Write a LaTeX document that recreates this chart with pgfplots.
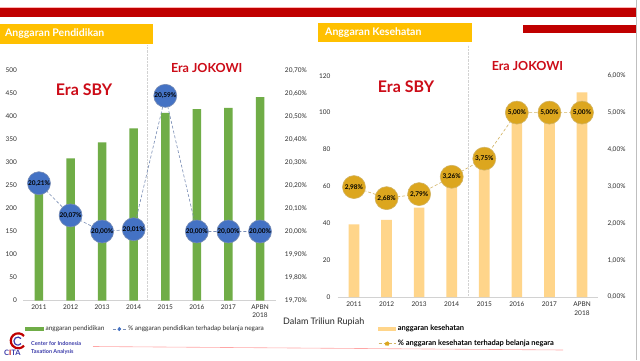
\documentclass[border=0pt]{standalone}
\usepackage{fontspec}
\setmainfont{Lato}
\usepackage{pgfplots}
\pgfplotsset{compat=1.18}
\definecolor{cred}{RGB}{192,0,0}
\definecolor{cyel}{RGB}{255,192,0}
\definecolor{cgreen}{RGB}{112,173,71}
\definecolor{cblue}{RGB}{68,114,196}
\definecolor{cdashb}{RGB}{120,140,180}
\definecolor{corange}{RGB}{255,213,138}
\definecolor{cgold}{RGB}{220,166,30}
\definecolor{cdashg}{RGB}{210,180,100}
\definecolor{erared}{RGB}{204,12,24}
\definecolor{ctick}{RGB}{45,45,45}
\definecolor{clogo}{RGB}{60,60,170}
\begin{document}
\begin{tikzpicture}[x=1pt,y=1pt]
\fill[white] (0,0) rectangle (640,360);
% header
\draw[red!30, line width=0.8pt] (0,352.4) -- (636,352.4);
\fill[cred] (0,343.3) rectangle (636,351.7);
\fill[cred] (523,327) rectangle (637,335);
\draw[gray!50, line width=0.8pt] (636.8,0) -- (636.8,360);
\fill[cyel] (0,316.5) rectangle (153,336);
\node[anchor=west, text=white, font=\bfseries\fontsize{10.5}{12}\selectfont, inner sep=0pt] at (5,326.2) {Anggaran Pendidikan};
\fill[cyel] (318,318) rectangle (472,337);
\node[anchor=west, text=white, font=\bfseries\fontsize{10.5}{12}\selectfont, inner sep=0pt] at (325,327.7) {Anggaran Kesehatan};
% dividers
\draw[gray!35, densely dotted] (147,59.5) -- (147,315);
\draw[gray!35, densely dotted] (468,63) -- (468,315);
% ---------- left chart ----------
\begin{axis}[at={(23.2pt,59.5pt)}, anchor=south west, scale only axis,
  width=252.6pt, height=230pt, xmin=-0.5, xmax=7.5, ymin=0, ymax=500,
  ytick={0,50,...,500}, xtick={0,...,7},
  xticklabels={2011,2012,2013,2014,2015,2016,2017,{APBN\\2018}},
  axis x line*=bottom, axis y line*=left,
  y axis line style={draw=none}, x axis line style={draw=gray!35},
  major tick length=0pt,
  ticklabel style={font=\fontsize{6.5}{8.5}\selectfont, text=ctick},
  yticklabel style={inner sep=0pt, xshift=-6pt},
  xticklabel style={inner sep=0pt, yshift=-4pt, align=center},
  /pgf/number format/assume math mode=true, clip=false]
\addplot[ybar, bar width=8.5pt, fill=cgreen, draw=none] coordinates {(0,267)(1,309)(2,344)(3,374)(4,408)(5,416)(6,419)(7,442)};
\end{axis}
\begin{axis}[at={(23.2pt,59.5pt)}, anchor=south west, scale only axis,
  width=252.6pt, height=230pt, xmin=-0.5, xmax=7.5, ymin=19.7, ymax=20.7,
  hide x axis, axis y line*=right, y axis line style={draw=none},
  major tick length=0pt,
  ytick={19.7,19.8,19.9,20,20.1,20.2,20.3,20.4,20.5,20.6,20.7},
  yticklabels={{19,70\%},{19,80\%},{19,90\%},{20,00\%},{20,10\%},{20,20\%},{20,30\%},{20,40\%},{20,50\%},{20,60\%},{20,70\%}},
  ticklabel style={font=\fontsize{6.5}{8}\selectfont, text=ctick},
  yticklabel style={inner sep=0pt, xshift=9pt},
  clip=false,
  legend style={at={(0.007,-0.124)}, anchor=west, draw=none, fill=none, inner sep=0pt,
    font=\fontsize{6.5}{8}\selectfont, text=ctick, legend columns=2,
    /tikz/every even column/.append style={column sep=6pt}},
  legend cell align=left]
\addlegendimage{legend image code/.code={\fill[cgreen] (-4pt,-1.6pt) rectangle (14pt,1.6pt);}}
\addlegendentry{anggaran pendidikan}
\addplot[densely dashed, color=cdashb, line width=0.6pt, mark=*, mark size=11.5pt,
  mark options={solid, fill=cblue, draw=none},
  nodes near coords, point meta=explicit symbolic,
  every node near coord/.append style={anchor=center, font=\bfseries\fontsize{6.5}{7}\selectfont, text=black, inner sep=0pt},
  legend image code/.code={\draw[densely dashed, cdashb, line width=0.6pt] (0pt,0) -- (13pt,0); \fill[cblue] (6.5pt,0) circle (1.7pt);}]
coordinates {(0,20.21)[20,21\%] (1,20.07)[20,07\%] (2,20.00)[20,00\%] (3,20.01)[20,01\%] (4,20.59)[20,59\%] (5,20.00)[20,00\%] (6,20.00)[20,00\%] (7,20.00)[20,00\%]};
\addlegendentry{\% anggaran pendidikan terhadap belanja negara}
\end{axis}
\node[text=erared, font=\bfseries\fontsize{16}{18}\selectfont] at (84,270) {Era SBY};
\node[text=erared, font=\bfseries\fontsize{12.5}{14}\selectfont] at (206.7,292) {Era JOKOWI};
% ---------- right chart ----------
\begin{axis}[at={(337.7pt,63pt)}, anchor=south west, scale only axis,
  width=260.6pt, height=221.3pt, xmin=-0.5, xmax=7.5, ymin=0, ymax=120,
  ytick={0,20,...,120}, xtick={0,...,7},
  xticklabels={2011,2012,2013,2014,2015,2016,2017,{APBN\\2018}},
  axis x line*=bottom, axis y line*=left,
  y axis line style={draw=none}, x axis line style={draw=gray!35},
  major tick length=0pt,
  ticklabel style={font=\fontsize{6.5}{8.5}\selectfont, text=ctick},
  yticklabel style={inner sep=0pt, xshift=-7pt},
  xticklabel style={inner sep=0pt, yshift=-5pt, align=center},
  /pgf/number format/assume math mode=true, clip=false]
\addplot[ybar, bar width=10.7pt, fill=corange, draw=none] coordinates {(0,39.4)(1,41.8)(2,48.4)(3,59.7)(4,69.3)(5,104.1)(6,104.9)(7,111)};
\end{axis}
\begin{axis}[at={(337.7pt,63pt)}, anchor=south west, scale only axis,
  width=260.6pt, height=221.3pt, xmin=-0.5, xmax=7.5, ymin=0, ymax=6,
  hide x axis, axis y line*=right, y axis line style={draw=none},
  major tick length=0pt,
  ytick={0,1,2,3,4,5,6},
  yticklabels={{0,00\%},{1,00\%},{2,00\%},{3,00\%},{4,00\%},{5,00\%},{6,00\%}},
  ticklabel style={font=\fontsize{6.5}{8}\selectfont, text=ctick},
  yticklabel style={inner sep=0pt, xshift=9pt},
  clip=false,
  legend style={at={(0.155,-0.117)}, anchor=north west, draw=none, fill=none, inner sep=0pt,
    font=\bfseries\fontsize{7.5}{9}\selectfont, row sep=4pt},
  legend cell align=left]
\addlegendimage{legend image code/.code={\fill[corange] (0pt,-1.6pt) rectangle (17pt,1.6pt);}}
\addlegendentry{anggaran kesehatan}
\addplot[densely dashed, color=cdashg, line width=0.6pt, mark=*, mark size=11.5pt,
  mark options={solid, fill=cgold, draw=none},
  nodes near coords, point meta=explicit symbolic,
  every node near coord/.append style={anchor=center, font=\bfseries\fontsize{6.5}{7}\selectfont, text=black, inner sep=0pt},
  legend image code/.code={\draw[densely dashed, cdashg, line width=0.6pt] (0pt,0) -- (17pt,0); \fill[cgold] (8.5pt,0) circle (2pt);}]
coordinates {(0,2.98)[2,98\%] (1,2.68)[2,68\%] (2,2.79)[2,79\%] (3,3.26)[3,26\%] (4,3.75)[3,75\%] (5,5.00)[5,00\%] (6,5.00)[5,00\%] (7,5.00)[5,00\%]};
\addlegendentry{\% anggaran kesehatan terhadap belanja negara}
\end{axis}
\node[text=erared, font=\bfseries\fontsize{16}{18}\selectfont] at (406,273.3) {Era SBY};
\node[text=erared, font=\bfseries\fontsize{12.5}{14}\selectfont] at (527.5,294) {Era JOKOWI};
\node[anchor=west, inner sep=0pt, font=\fontsize{9}{10}\selectfont, text=black!85] at (283,38) {Dalam Triliun Rupiah};
% footer / logo
\draw[red!35, line width=0.6pt] (93,13.5) -- (563,10);
\draw[cred, line width=2.2pt] (24,24) arc (40:320:7.5pt);
\draw[clogo, line width=1.2pt] (21,21.5) arc (40:320:4pt);
\node[anchor=west, inner sep=0pt, text=clogo, font=\bfseries\fontsize{7.5}{8}\selectfont] at (4,7) {C\textcolor{cred}{I}TA};
\node[anchor=west, inner sep=0pt, text=clogo, font=\bfseries\fontsize{5.5}{6}\selectfont] at (31,16.5) {Center for Indonesia};
\node[anchor=west, inner sep=0pt, text=clogo, font=\bfseries\fontsize{5.5}{6}\selectfont] at (31,8) {Taxation Analysis};
\pgfresetboundingbox
\path[use as bounding box] (0,0) rectangle (640,360);
\end{tikzpicture}
\end{document}
